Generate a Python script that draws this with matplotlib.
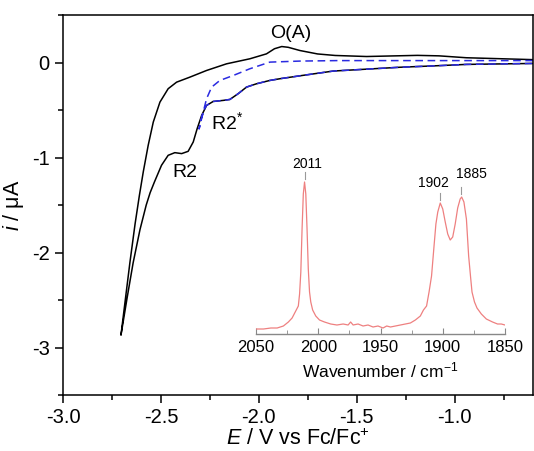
import matplotlib
matplotlib.use("Agg")
import matplotlib.pyplot as plt
from matplotlib.ticker import MultipleLocator

plt.rcParams['font.family'] = ['Liberation Sans', 'DejaVu Sans']
plt.rcParams['mathtext.fontset'] = 'custom'
plt.rcParams['mathtext.rm'] = 'Liberation Sans'
plt.rcParams['mathtext.it'] = 'Liberation Sans:italic'

# ---- CV data (black, full scan) ----
top_E = [-0.60, -0.77, -0.94, -1.08, -1.19, -1.30, -1.45, -1.61, -1.70, -1.79, -1.85, -1.883,
         -1.92, -1.961, -2.046, -2.165, -2.267, -2.352, -2.420, -2.463, -2.505, -2.539,
         -2.565, -2.590, -2.610, -2.632, -2.658, -2.682, -2.704]
top_i = [0.03, 0.04, 0.05, 0.07, 0.075, 0.07, 0.063, 0.074, 0.09, 0.126, 0.16, 0.168,
         0.145, 0.091, 0.039, -0.014, -0.084, -0.154, -0.207, -0.276, -0.417, -0.627,
         -0.872, -1.15, -1.40, -1.70, -2.10, -2.50, -2.87]
bot_E = [-2.704, -2.672, -2.642, -2.607, -2.575, -2.555, -2.533, -2.497, -2.463, -2.429,
         -2.394, -2.361, -2.335, -2.315, -2.292, -2.267, -2.233, -2.182, -2.148, -2.106,
         -2.063, -2.012, -1.944, -1.89, -1.79, -1.62, -1.45, -1.28, -1.10, -0.94, -0.77, -0.60]
bot_i = [-2.87, -2.47, -2.11, -1.76, -1.50, -1.37, -1.257, -1.082, -0.977, -0.949,
         -0.959, -0.935, -0.837, -0.697, -0.557, -0.452, -0.410, -0.399, -0.389, -0.329,
         -0.259, -0.224, -0.189, -0.17, -0.14, -0.09, -0.07, -0.05, -0.035, -0.02, -0.015, -0.01]

# ---- CV data (blue dashed, narrow scan) ----
blue_E = [-0.60, -1.00, -1.28, -1.60, -1.79, -1.944, -2.046, -2.131, -2.199, -2.241,
          -2.267, -2.284, -2.301, -2.305, -2.295, -2.28, -2.267, -2.233, -2.182, -2.148,
          -2.106, -2.063, -2.012, -1.944, -1.89, -1.79, -1.62, -1.45, -1.28, -1.10, -0.94,
          -0.77, -0.60]
blue_i = [0.02, 0.02, 0.02, 0.02, 0.015, 0.004, -0.066, -0.137, -0.189, -0.259,
          -0.382, -0.522, -0.662, -0.70, -0.60, -0.50, -0.452, -0.410, -0.399, -0.389,
          -0.329, -0.259, -0.224, -0.189, -0.17, -0.14, -0.09, -0.07, -0.05, -0.035, -0.02,
          -0.015, -0.01]

# ---- IR inset data ----
wn = [2050, 2044, 2038, 2033, 2028, 2024, 2021, 2018.5, 2016, 2015, 2014, 2013, 2012, 2011,
      2010, 2009, 2008, 2007, 2006, 2004.5, 2002, 1999, 1995, 1990, 1985, 1980, 1976, 1974,
      1972, 1968, 1964, 1960, 1956, 1952, 1948, 1945, 1942, 1938, 1934, 1930, 1926, 1922,
      1918, 1915.5, 1913, 1911, 1909, 1907, 1905.5, 1904, 1902, 1900, 1898, 1896, 1894, 1892,
      1890, 1888, 1886, 1884.8, 1883, 1881, 1879.2, 1877.5, 1876.5, 1874.5, 1872.5, 1869,
      1865, 1860, 1856, 1853, 1850]
ir = [5, 5, 6, 6, 8, 12, 16, 22, 28, 40, 62, 105, 140, 152,
      140, 105, 65, 42, 32, 24, 18, 14, 12, 10, 9, 10, 9, 12,
      9, 10, 8, 9, 7, 8, 6, 8, 7, 8, 9, 10, 11, 14,
      18, 24, 28, 42, 58, 88, 110, 122, 131, 125, 112, 100, 94, 97,
      110, 126, 135, 137, 132, 115, 78, 55, 42, 32, 26, 20,
      15, 12, 10, 10, 9]
peak_wn = [2011, 1902, 1885]
peak_top = [152, 131, 137]
peak_labels = ['2011', '1902', '1885']
label_wn = [2009, 1907.8, 1877.3]
label_y = [170, 151, 160]

fig = plt.figure(figsize=(5.34, 4.51), dpi=100)
ax = fig.add_axes([63/534, 56/451, 470/534, 380/451])

ax.plot(top_E + bot_E, top_i + bot_i, color='black', lw=1.1)
ax.plot(blue_E, blue_i, color='#2a2ae0', lw=1.1, ls=(0, (5, 3)))

ax.set_xlim(-3.0, -0.6)
ax.set_ylim(-3.5, 0.5)
ax.xaxis.set_minor_locator(MultipleLocator(0.25))
ax.yaxis.set_minor_locator(MultipleLocator(0.5))
ax.tick_params(which='both', direction='out', width=1.1, labelsize=14.5)
ax.tick_params(which='major', length=6)
ax.tick_params(which='minor', length=3.5)
ax.set_xticks([-3.0, -2.5, -2.0, -1.5, -1.0])
ax.set_xticklabels(['-3.0', '-2.5', '-2.0', '-1.5', '-1.0'])
ax.set_yticks([0, -1, -2, -3])
ax.set_yticklabels(['0', '-1', '-2', '-3'])
for s in ax.spines.values():
    s.set_linewidth(1.1)
ax.set_xlabel(r'$\it{E}$ / V vs Fc/Fc$^{+}$', fontsize=15.5, labelpad=1)
ax.set_ylabel(r'$\it{i}$ / μA', fontsize=15.5, labelpad=4)

ax.text(-1.837, 0.305, 'O(A)', fontsize=14, ha='center', va='center')
ax.text(-2.378, -1.155, 'R2', fontsize=14, ha='center', va='center')
ax.text(-2.16, -0.63, r'R2$^{*}$', fontsize=14, ha='center', va='center')

# inset
axi = fig.add_axes([256/534, (451-334)/451, 249/534, 180/451])
axi.patch.set_alpha(0)
axi.plot(wn, ir, color='#ee8080', lw=0.9)
axi.set_xlim(2050, 1850)
axi.set_ylim(0, 180)
for sp in ['left', 'right', 'top']:
    axi.spines[sp].set_visible(False)
axi.spines['bottom'].set_color('#888888')
axi.spines['bottom'].set_linewidth(1.0)
axi.set_yticks([])
axi.xaxis.set_major_locator(MultipleLocator(50))
axi.xaxis.set_minor_locator(MultipleLocator(25))
axi.tick_params(axis='x', which='both', direction='in', color='#888888', labelsize=12, pad=4)
axi.tick_params(axis='x', which='major', length=4)
axi.tick_params(axis='x', which='minor', length=3)
axi.set_xlabel(r'Wavenumber / cm$^{-1}$', fontsize=12.5, labelpad=4)
for w, t, lw_, ly, lab in zip(peak_wn, peak_top, label_wn, label_y, peak_labels):
    axi.plot([w, w], [t + 3, t + 10], color='#999999', lw=0.8)
    axi.text(lw_, ly, lab, fontsize=10, ha='center', va='center')

fig.savefig('out.png', dpi=100)
